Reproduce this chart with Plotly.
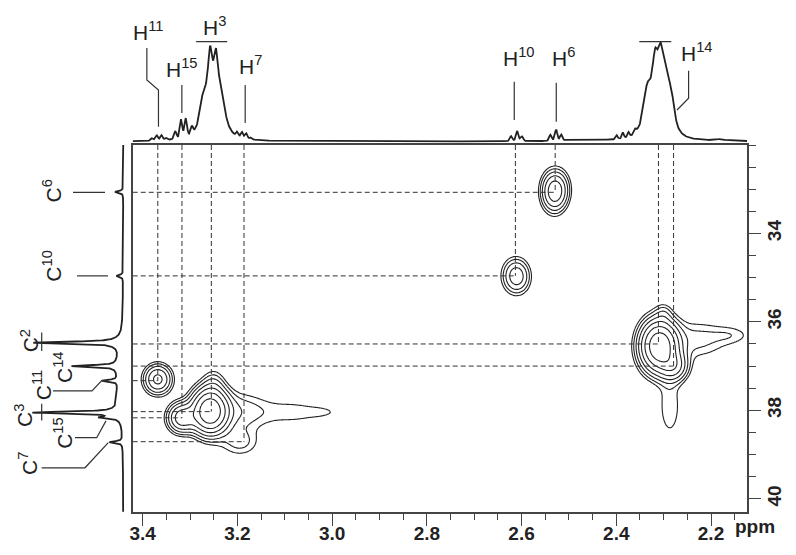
import numpy as np
import plotly.graph_objects as go

# the page body keeps its default 8px margin, so the figure is drawn 8px in
OFF = 8
W, H = 796 - OFF, 555 - OFF

# assignments: proton / carbon shifts (ppm) of each cross peak
labels = ['11', '15', '3', '7', '10', '6', '2', '14']
h_shift = [3.368, 3.317, 3.255, 3.186, 2.613, 2.529, 2.311, 2.279]
c_shift = [37.33, 38.17, 38.03, 38.71, 34.96, 33.07, 36.50, 37.00]

# 1H projection: line positions, heights, widths (ppm)
h1_pos = [3.380, 3.370, 3.360, 3.350,
          3.331, 3.3187, 3.3088, 3.296,
          3.2575, 3.2445, 3.251, 3.272, 3.232,
          3.200, 3.190, 3.181, 3.171,
          2.622, 2.609, 2.599,
          2.539, 2.527, 2.516, 2.46,
          2.399, 2.386, 2.374, 2.36,
          2.318, 2.306, 2.312, 2.335, 2.295, 2.283, 2.18]
h1_amp = [0.025, 0.05, 0.05, 0.02,
          0.08, 0.19, 0.19, 0.08,
          0.42, 0.40, 0.52, 0.20, 0.15,
          0.05, 0.06, 0.055, 0.02,
          0.05, 0.10, 0.045,
          0.06, 0.11, 0.06, 0.012,
          0.04, 0.06, 0.05, 0.04,
          0.33, 0.33, 0.55, 0.25, 0.28, 0.20, 0.015]
h1_fwhm = [0.006, 0.006, 0.006, 0.006,
           0.006, 0.006, 0.006, 0.006,
           0.010, 0.010, 0.045, 0.015, 0.012,
           0.006, 0.006, 0.006, 0.006,
           0.006, 0.006, 0.006,
           0.006, 0.006, 0.006, 0.06,
           0.005, 0.005, 0.005, 0.006,
           0.012, 0.012, 0.05, 0.016, 0.016, 0.014, 0.02]

# 13C projection: line positions, heights, widths (ppm)
c1_pos = [33.06, 34.96, 36.47, 37.00, 37.33, 38.05, 38.16, 38.72,
          36.47, 38.05, 37.0, 37.7]
c1_amp = [0.10, 0.08, 1.0, 0.55, 0.19, 1.0, 0.20, 0.16,
          0.08, 0.08, 0.07, 0.06]
c1_fwhm = [0.05, 0.05, 0.05, 0.05, 0.05, 0.05, 0.05, 0.05,
           0.25, 0.25, 0.8, 0.6]

# 2D peak components: 1H centre, 13C centre, widths, amplitude
pk_h = [2.531, 2.516, 2.613, 2.600, 3.368, 3.258, 3.250, 3.317, 3.195,
        3.200, 3.080, 3.020, 2.309, 2.300, 2.279, 2.230, 2.155, 2.287]
pk_c = [33.05, 32.98, 34.96, 35.00, 37.30, 38.02, 37.40, 38.17, 38.72,
        38.03, 38.04, 38.04, 36.55, 35.80, 37.00, 36.40, 36.30, 37.90]
pk_sh = [0.016, 0.014, 0.017, 0.014, 0.0175, 0.022, 0.015, 0.018, 0.028,
         0.045, 0.05, 0.025, 0.023, 0.012, 0.018, 0.045, 0.03, 0.018]
pk_sc = [0.27, 0.25, 0.24, 0.22, 0.20, 0.29, 0.22, 0.20, 0.22,
         0.30, 0.22, 0.08, 0.33, 0.15, 0.20, 0.30, 0.15, 0.55]
pk_amp = [0.35, 0.05, 0.20, 0.04, 0.30, 1.0, 0.07, 0.35, 0.075,
          0.09, 0.05, 0.03, 1.0, 0.05, 0.30, 0.075, 0.045, 0.06]

x_range = [3.421, 2.124]
y_range = [40.3, 32.0]


def pv(x, x0, a, fwhm, eta=0.4):
    d = (x - x0) / fwhm
    return a * (eta / (1 + 4 * d ** 2) + (1 - eta) * np.exp(-4 * np.log(2) * d ** 2))


def px_x(p):
    return (p - OFF) / W


def px_y(p):
    return 1 - (p - OFF) / H


# projections
hx = np.arange(2.124, 3.4215, 0.001)
hy = sum(pv(hx, p, a, w) for p, a, w in zip(h1_pos, h1_amp, h1_fwhm))
cy = np.arange(32.0, 40.3, 0.004)
cx = sum(pv(cy, p, a, w, eta=0.8) for p, a, w in zip(c1_pos, c1_amp, c1_fwhm))

# 2D surface
gx = np.arange(2.124, 3.4225, 0.0025)
gy = np.arange(32.0, 40.31, 0.025)
GX, GY = np.meshgrid(gx, gy)
Z = np.zeros_like(GX)
for h, c, sh, sc, a in zip(pk_h, pk_c, pk_sh, pk_sc, pk_amp):
    Z += a * np.exp(-((GX - h) ** 2 / (2 * sh ** 2) + (GY - c) ** 2 / (2 * sc ** 2)))
logZ = np.round(np.log10(Z + 1e-6), 4)

ink = '#222222'
fig = go.Figure()

fig.add_trace(go.Contour(x=gx, y=gy, z=logZ, autocontour=False,
                         contours=dict(start=np.log10(0.04), end=0.05,
                                       size=np.log10(1.6), coloring='lines'),
                         colorscale=[[0, ink], [1, ink]], showscale=False,
                         line=dict(width=1.1), hoverinfo='skip'))

# dashed correlation lines
for h, c in zip(h_shift, c_shift):
    fig.add_trace(go.Scatter(x=[h, h], y=[y_range[1], c], mode='lines',
                             line=dict(color='#333', width=1, dash='5px,3px')))
    fig.add_trace(go.Scatter(x=[x_range[0], h], y=[c, c], mode='lines',
                             line=dict(color='#333', width=1, dash='5px,3px')))

# projections
fig.add_trace(go.Scatter(x=hx, y=hy, mode='lines', xaxis='x2', yaxis='y2',
                         line=dict(color=ink, width=1.8)))
fig.add_trace(go.Scatter(x=cx, y=cy, mode='lines', xaxis='x3', yaxis='y3',
                         line=dict(color=ink, width=1.8)))

# leader lines for the 1H labels (ppm, intensity)
h_leads = [
    ([3.3911, 3.3911, 3.3666, 3.3666], [0.937, 0.616, 0.516, 0.148]),
    ([3.3172, 3.3172], [0.566, 0.286]),
    ([3.287, 3.2215], [1.0, 1.0]),
    ([3.1835, 3.1835], [0.566, 0.185]),
    ([2.6154, 2.6154], [0.599, 0.215]),
    ([2.5267, 2.5267], [0.589, 0.198]),
    ([2.3514, 2.2838], [1.0, 1.0]),
    ([2.2473, 2.2473, 2.2718], [0.709, 0.433, 0.316]),
]
h_lab_pos = [(3.3894, 1.107), (3.3176, 0.741), (3.248, 1.152), (3.173, 0.767),
             (2.606, 0.847), (2.511, 0.847), (2.304, 1.177), (2.230, 0.897)]
for (lx, ly) in h_leads:
    fig.add_trace(go.Scatter(x=lx, y=ly, mode='lines', xaxis='x2', yaxis='y2',
                             line=dict(color='#333', width=1.2)))

# leader lines for the 13C labels (intensity, ppm)
c_leads = [
    ([0.8615, 0.3836, 0.2647, 0.1875], [37.56, 37.56, 37.33, 37.33]),
    ([0.592, 0.326, 0.212], [38.62, 38.62, 38.24]),
    ([1.0, 1.0], [37.85, 38.23]),
    ([1.0, 0.469, 0.184], [39.30, 39.30, 38.73]),
    ([0.567, 0.1875], [34.96, 34.96]),
    ([0.616, 0.224], [33.07, 33.07]),
    ([1.0, 1.0], [36.24, 36.66]),
]
c_lab_pos = [(0.996, 37.43), (0.739, 38.51), (1.22, 38.11), (1.168, 39.19),
             (0.874, 34.73), (0.874, 33.03), (1.15, 36.43), (0.739, 37.02)]
for (lx, ly) in c_leads:
    fig.add_trace(go.Scatter(x=lx, y=ly, mode='lines', xaxis='x3', yaxis='y3',
                             line=dict(color='#333', width=1.2)))

lab_font = dict(family='Liberation Sans, Arial', size=21, color=ink)
ann = []
for name, (x, y) in zip(labels, h_lab_pos):
    ann.append(dict(x=x, y=y, xref='x2', yref='y2', text='H<sup>%s</sup>' % name,
                    showarrow=False, font=lab_font))
for name, (x, y) in zip(labels, c_lab_pos):
    ann.append(dict(x=x, y=y, xref='x3', yref='y3', text='C<sup>%s</sup>' % name,
                    showarrow=False, font=lab_font, textangle=-90))
ann.append(dict(x=px_x(777), y=px_y(539), xref='paper', yref='paper', text='ppm',
                showarrow=False, font=dict(family='Liberation Sans, Arial', size=19,
                                           color=ink, weight='bold')))

tick_font = dict(family='Liberation Sans, Arial', size=19, color=ink, weight='bold')
main_dom_x = [px_x(132.7), px_x(747)]
main_dom_y = [px_y(512), px_y(145)]

fig.update_layout(
    template='none',
    width=W, height=H, margin=dict(l=0, r=0, t=0, b=0, autoexpand=False),
    paper_bgcolor='white', plot_bgcolor='rgba(0,0,0,0)', showlegend=False,
    annotations=ann,
    xaxis=dict(domain=main_dom_x, range=x_range, anchor='y', showgrid=False,
               automargin=False,
               zeroline=False, showline=True, mirror=True, linecolor='#444',
               linewidth=1.5, ticks='outside', ticklen=12, tickwidth=1.2,
               tickcolor='#444', tickvals=[3.4, 3.2, 3.0, 2.8, 2.6, 2.4, 2.2],
               tickformat='.1f', tickfont=tick_font, ticklabelstandoff=-9,
               minor=dict(dtick=0.05, tick0=2.2, ticks='outside', ticklen=6,
                          tickcolor='#444', tickwidth=1.2)),
    yaxis=dict(domain=main_dom_y, range=y_range, anchor='x', side='right',
               automargin=False,
               showgrid=False, zeroline=False, showline=True, mirror=True,
               linecolor='#444', linewidth=1.5, ticks='outside', ticklen=12,
               tickwidth=1.2, tickcolor='#444', tickvals=[34, 36, 38, 40],
               tickangle=-90, tickfont=tick_font,
               ticklabelstandoff=-3,
               minor=dict(dtick=0.5, tick0=32, ticks='outside', ticklen=7,
                          tickcolor='#444', tickwidth=1.2)),
    xaxis2=dict(domain=main_dom_x, range=x_range, anchor='y2', visible=False),
    yaxis2=dict(domain=[px_y(145), px_y(25)], range=[-0.035, 1.167],
                anchor='x2', visible=False),
    xaxis3=dict(domain=[0, px_x(128)], range=[(123.3 - OFF) / 81.6, -0.0576],
                anchor='y3', visible=False),
    yaxis3=dict(domain=main_dom_y, range=y_range, anchor='x3', visible=False),
)

fig.write_html('out.html')
